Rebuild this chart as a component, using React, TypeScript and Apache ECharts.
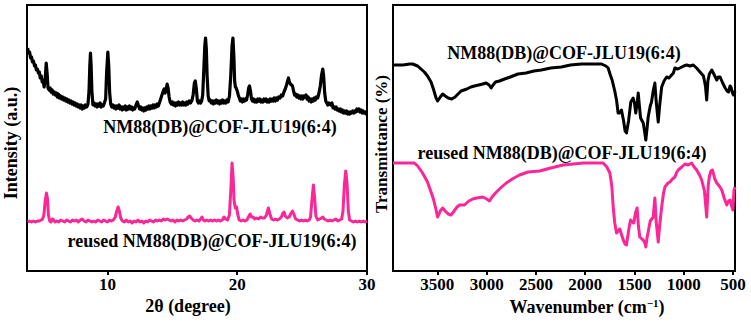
import React, { useEffect, useRef } from "react";
import * as echarts from "echarts";

// XRD patterns: [2θ (degree), intensity (a.u., stacked with offset)]
const xrdFresh: [number, number][] = [
  [3.85, 223], [3.92, 218], [4.0, 219], [4.08, 213], [4.15, 214], [4.22, 209], [4.3, 210], [4.38, 205],
  [4.45, 206], [4.52, 201], [4.6, 202], [4.68, 198], [4.75, 199], [4.82, 193], [4.9, 195], [4.97, 189],
  [5.05, 190], [5.12, 184], [5.2, 192], [5.28, 208], [5.36, 196], [5.42, 183], [5.5, 181], [5.58, 183],
  [5.66, 179], [5.74, 181], [5.82, 177], [5.9, 179], [5.98, 176], [6.06, 178], [6.14, 174], [6.22, 177],
  [6.3, 173], [6.38, 175], [6.46, 172], [6.54, 174], [6.62, 171], [6.7, 173], [6.78, 170], [6.86, 172],
  [6.94, 169], [7.02, 171], [7.1, 168], [7.18, 170], [7.26, 167], [7.34, 169], [7.42, 166], [7.5, 168],
  [7.58, 165], [7.66, 167], [7.74, 164], [7.82, 166], [7.9, 163], [7.98, 166], [8.06, 162], [8.14, 165],
  [8.22, 163], [8.3, 166], [8.4, 164], [8.5, 167], [8.58, 180], [8.64, 205], [8.69, 218], [8.74, 206],
  [8.8, 180], [8.88, 166], [8.96, 168], [9.04, 165], [9.12, 167], [9.2, 164], [9.28, 167], [9.36, 165],
  [9.44, 168], [9.52, 164], [9.6, 166], [9.68, 165], [9.76, 168], [9.86, 172], [9.94, 200], [10.03, 219],
  [10.1, 205], [10.17, 178], [10.25, 167], [10.33, 164], [10.41, 166], [10.49, 163], [10.57, 165], [10.65, 162],
  [10.73, 165], [10.81, 163], [10.9, 166], [10.98, 162], [11.06, 164], [11.14, 161], [11.22, 164], [11.3, 162],
  [11.38, 165], [11.46, 161], [11.54, 164], [11.62, 162], [11.7, 165], [11.78, 162], [11.86, 164], [11.94, 161],
  [12.02, 163], [12.1, 162], [12.2, 166], [12.3, 169], [12.4, 165], [12.48, 162], [12.56, 164], [12.64, 161],
  [12.72, 163], [12.8, 160], [12.88, 163], [12.96, 161], [13.04, 164], [13.12, 162], [13.2, 165], [13.28, 162],
  [13.36, 165], [13.44, 163], [13.52, 166], [13.6, 163], [13.68, 166], [13.76, 164], [13.84, 167], [13.92, 165],
  [14.0, 168], [14.1, 172], [14.2, 176], [14.3, 180], [14.37, 182], [14.45, 178], [14.52, 182], [14.6, 187],
  [14.67, 183], [14.75, 174], [14.83, 169], [14.92, 167], [15.0, 169], [15.08, 166], [15.16, 168], [15.24, 165],
  [15.32, 168], [15.4, 166], [15.48, 169], [15.56, 166], [15.64, 168], [15.72, 166], [15.8, 169], [15.88, 166],
  [15.96, 168], [16.04, 166], [16.12, 169], [16.2, 167], [16.3, 170], [16.4, 168], [16.5, 170], [16.6, 176],
  [16.7, 188], [16.77, 190], [16.85, 182], [16.93, 170], [17.01, 168], [17.1, 170], [17.18, 168], [17.26, 170],
  [17.34, 176], [17.42, 200], [17.5, 225], [17.56, 233], [17.62, 222], [17.68, 195], [17.76, 175], [17.84, 170],
  [17.92, 171], [18.0, 168], [18.08, 170], [18.16, 167], [18.24, 170], [18.32, 168], [18.4, 171], [18.48, 168],
  [18.56, 170], [18.64, 167], [18.72, 170], [18.8, 168], [18.88, 171], [18.96, 168], [19.04, 170], [19.12, 168],
  [19.2, 171], [19.3, 169], [19.4, 175], [19.5, 195], [19.6, 225], [19.67, 233], [19.74, 215], [19.8, 190],
  [19.86, 184], [19.92, 183], [20.0, 180], [20.08, 176], [20.16, 173], [20.24, 170], [20.32, 172], [20.4, 169],
  [20.48, 172], [20.56, 170], [20.64, 172], [20.72, 171], [20.8, 176], [20.88, 183], [20.95, 185], [21.02, 180],
  [21.1, 172], [21.18, 170], [21.26, 172], [21.34, 169], [21.42, 171], [21.5, 169], [21.58, 172], [21.66, 170],
  [21.74, 172], [21.82, 169], [21.9, 171], [21.98, 169], [22.06, 172], [22.14, 170], [22.22, 172], [22.3, 169],
  [22.38, 171], [22.46, 169], [22.54, 172], [22.62, 170], [22.7, 172], [22.78, 170], [22.86, 173], [22.94, 170],
  [23.02, 173], [23.1, 171], [23.2, 174], [23.3, 173], [23.4, 176], [23.5, 175], [23.6, 179], [23.7, 182],
  [23.8, 186], [23.88, 190], [23.95, 193], [24.02, 189], [24.1, 187], [24.18, 186], [24.26, 185], [24.34, 180],
  [24.42, 176], [24.5, 177], [24.58, 174], [24.66, 176], [24.74, 173], [24.82, 175], [24.9, 172], [24.98, 175],
  [25.06, 172], [25.14, 175], [25.22, 174], [25.3, 176], [25.38, 172], [25.46, 174], [25.54, 170], [25.62, 172],
  [25.7, 169], [25.78, 172], [25.86, 170], [25.94, 173], [26.02, 171], [26.1, 174], [26.2, 173], [26.3, 178],
  [26.4, 185], [26.5, 196], [26.59, 202], [26.66, 195], [26.74, 178], [26.82, 170], [26.9, 168], [26.98, 166],
  [27.06, 168], [27.14, 167], [27.22, 166], [27.3, 168], [27.38, 163], [27.46, 164], [27.54, 162], [27.62, 164],
  [27.7, 161], [27.78, 162], [27.86, 160], [27.94, 162], [28.02, 159], [28.1, 161], [28.18, 158], [28.26, 160],
  [28.34, 158], [28.42, 160], [28.5, 157], [28.58, 159], [28.66, 157], [28.74, 159], [28.82, 158], [28.9, 160],
  [28.98, 158], [29.06, 160], [29.14, 159], [29.22, 162], [29.3, 160], [29.38, 162], [29.46, 159], [29.54, 161],
  [29.62, 158], [29.7, 160], [29.78, 158], [29.86, 159], [29.94, 157], [30.0, 158],
];

const xrdReused: [number, number][] = [
  [3.85, 49], [4.0, 50], [4.15, 49], [4.3, 50], [4.45, 49], [4.6, 50], [4.75, 50], [4.9, 51],
  [5.0, 52], [5.1, 56], [5.2, 70], [5.3, 78], [5.38, 72], [5.45, 56], [5.55, 50], [5.65, 49],
  [5.75, 52], [5.85, 51], [5.95, 49], [6.1, 50], [6.25, 49], [6.4, 51], [6.55, 50], [6.7, 49],
  [6.85, 51], [7.0, 50], [7.15, 49], [7.3, 51], [7.45, 50], [7.6, 51], [7.75, 49], [7.9, 51],
  [8.05, 52], [8.2, 50], [8.35, 49], [8.5, 51], [8.65, 50], [8.8, 49], [8.95, 50], [9.1, 49],
  [9.25, 51], [9.4, 50], [9.55, 49], [9.7, 51], [9.85, 50], [10.0, 49], [10.15, 51], [10.3, 50],
  [10.45, 51], [10.6, 54], [10.72, 60], [10.82, 64], [10.92, 60], [11.02, 53], [11.15, 50], [11.3, 49],
  [11.45, 51], [11.6, 49], [11.75, 50], [11.9, 48], [12.05, 50], [12.2, 49], [12.35, 51], [12.5, 49],
  [12.65, 50], [12.8, 48], [12.95, 50], [13.1, 49], [13.25, 51], [13.4, 50], [13.55, 49], [13.7, 51],
  [13.85, 50], [14.0, 51], [14.15, 50], [14.3, 52], [14.45, 51], [14.6, 52], [14.75, 51], [14.9, 50],
  [15.05, 51], [15.2, 49], [15.35, 51], [15.5, 50], [15.65, 51], [15.8, 50], [15.95, 51], [16.1, 52],
  [16.22, 54], [16.33, 55], [16.45, 53], [16.6, 51], [16.75, 50], [16.9, 51], [17.05, 50], [17.18, 52],
  [17.28, 54], [17.38, 51], [17.5, 50], [17.65, 51], [17.8, 50], [17.95, 51], [18.1, 50], [18.25, 51],
  [18.4, 50], [18.55, 51], [18.7, 50], [18.85, 51], [18.98, 54], [19.1, 52], [19.25, 51], [19.4, 56],
  [19.5, 80], [19.6, 108], [19.68, 95], [19.76, 70], [19.85, 63], [19.95, 64], [20.05, 56], [20.15, 51],
  [20.3, 50], [20.45, 51], [20.6, 50], [20.75, 51], [20.9, 55], [21.0, 57], [21.1, 54], [21.22, 54],
  [21.35, 52], [21.5, 53], [21.65, 52], [21.8, 54], [21.95, 53], [22.1, 53], [22.25, 56], [22.4, 63],
  [22.52, 57], [22.65, 52], [22.8, 51], [22.95, 52], [23.1, 51], [23.25, 52], [23.4, 54], [23.52, 58],
  [23.6, 59], [23.7, 55], [23.85, 53], [24.0, 54], [24.15, 58], [24.26, 60], [24.36, 57], [24.5, 52],
  [24.65, 51], [24.8, 50], [24.95, 51], [25.1, 50], [25.25, 51], [25.4, 50], [25.55, 51], [25.65, 54],
  [25.75, 70], [25.87, 86], [25.97, 72], [26.06, 55], [26.2, 51], [26.35, 52], [26.5, 53], [26.6, 54],
  [26.7, 52], [26.85, 51], [27.0, 50], [27.15, 51], [27.3, 50], [27.45, 51], [27.6, 52], [27.75, 50],
  [27.9, 51], [28.05, 52], [28.15, 60], [28.25, 85], [28.36, 100], [28.46, 88], [28.56, 60], [28.66, 51],
  [28.8, 50], [28.95, 49], [29.1, 50], [29.25, 49], [29.4, 50], [29.55, 49], [29.7, 50], [29.85, 49],
  [30.0, 50],
];

// FTIR spectra: [wavenumber (cm-1), transmittance (%, stacked with offset)]
const ftirFresh: [number, number][] = [
  [3950, 206], [3850, 206], [3780, 207], [3751, 207], [3700, 205], [3632, 199], [3600, 195], [3564, 189],
  [3540, 182], [3513, 173], [3497, 170], [3470, 174], [3446, 177], [3420, 175], [3390, 173], [3354, 172],
  [3320, 174], [3290, 177], [3259, 180], [3200, 182], [3160, 184], [3124, 185], [3080, 186], [3040, 187],
  [3005, 188], [2975, 186], [2954, 183], [2935, 186], [2910, 189], [2870, 190], [2818, 192], [2760, 194],
  [2683, 197], [2600, 198], [2520, 200], [2445, 201], [2350, 203], [2242, 204], [2150, 206], [2038, 207],
  [1940, 207], [1835, 207], [1790, 205], [1767, 203], [1745, 196], [1727, 191], [1700, 180], [1682, 171],
  [1666, 158], [1650, 158], [1632, 161], [1610, 150], [1595, 140], [1581, 138], [1560, 150], [1537, 169],
  [1513, 173], [1500, 168], [1487, 158], [1470, 170], [1462, 178], [1450, 165], [1438, 153], [1411, 148],
  [1395, 138], [1385, 131], [1373, 142], [1361, 154], [1340, 165], [1327, 169], [1310, 180], [1293, 188],
  [1280, 170], [1259, 149], [1245, 165], [1224, 184], [1200, 190], [1174, 194], [1150, 193], [1123, 196],
  [1105, 198], [1090, 203], [1060, 202], [1039, 203], [1000, 205], [970, 206], [935, 205], [903, 206],
  [870, 203], [835, 199], [800, 195], [780, 185], [767, 171], [755, 190], [740, 197], [716, 201],
  [690, 196], [665, 191], [650, 194], [631, 194], [605, 188], [580, 183], [560, 180], [546, 179],
  [530, 185], [522, 184], [505, 178], [495, 176], [480, 180],
];

const ftirReused: [number, number][] = [
  [3950, 108], [3850, 108], [3734, 108], [3700, 105], [3650, 98], [3600, 89], [3564, 79], [3540, 72],
  [3520, 64], [3497, 54], [3470, 60], [3446, 63], [3420, 60], [3390, 57], [3361, 56], [3330, 60],
  [3300, 64], [3276, 66], [3225, 66], [3180, 70], [3141, 72], [3100, 73], [3039, 74], [3000, 72],
  [2971, 70], [2945, 74], [2910, 78], [2870, 82], [2801, 88], [2740, 92], [2666, 96], [2580, 99],
  [2462, 100], [2350, 103], [2225, 106], [2120, 107], [2022, 108], [1900, 108], [1818, 108], [1780, 104],
  [1750, 98], [1730, 85], [1716, 64], [1700, 48], [1682, 38], [1665, 40], [1649, 42], [1630, 36],
  [1614, 31], [1595, 27], [1581, 26], [1560, 40], [1540, 51], [1520, 49], [1507, 48], [1490, 58],
  [1473, 63], [1460, 45], [1446, 34], [1425, 32], [1411, 31], [1395, 28], [1385, 24], [1373, 33],
  [1361, 39], [1340, 50], [1310, 54], [1293, 73], [1280, 50], [1259, 29], [1245, 45], [1224, 64],
  [1205, 78], [1191, 84], [1160, 88], [1140, 89], [1115, 92], [1090, 94], [1070, 99], [1056, 101],
  [1020, 104], [988, 107], [955, 106], [920, 108], [895, 104], [869, 101], [840, 96], [818, 91],
  [790, 80], [767, 54], [752, 85], [741, 94], [725, 100], [708, 101], [685, 92], [665, 88],
  [640, 85], [614, 81], [590, 73], [563, 66], [545, 70], [529, 71], [515, 65], [502, 61],
  [490, 81], [480, 84],
];

const xrdTicks = [10, 20, 30];
const ftirTicks = [3500, 3000, 2500, 2000, 1500, 1000, 500];
const sampleName = "NM88(DB)@COF-JLU19(6:4)";
const reusedName = "reused NM88(DB)@COF-JLU19(6:4)";

const FONT = '"Liberation Serif", "Times New Roman", serif';
const BLACK = "#000000";
const PINK = "#fb2796";

function textEl(text: string, x: number, y: number, size: number, rotation = 0) {
  return {
    type: "text",
    x,
    y,
    rotation,
    style: {
      text,
      fontFamily: FONT,
      fontWeight: "bold",
      fontSize: size,
      fill: BLACK,
      align: "center",
      verticalAlign: "middle",
    },
  };
}

function xAxisCfg(gridIndex: number, min: number, max: number, ticks: number[], inverse: boolean) {
  return {
    gridIndex,
    type: "value",
    min,
    max,
    inverse,
    axisLine: { show: true, onZero: false, lineStyle: { color: BLACK, width: 2 } },
    axisTick: { show: true, customValues: ticks, length: 4, lineStyle: { color: BLACK, width: 2 } },
    axisLabel: {
      customValues: ticks,
      formatter: (v: number) => String(v),
      fontFamily: FONT,
      fontWeight: "bold",
      fontSize: 17,
      color: BLACK,
      margin: 5,
    },
    splitLine: { show: false },
  };
}

function lineSeries(data: [number, number][], idx: number, color: string, width: number) {
  return {
    type: "line",
    xAxisIndex: idx,
    yAxisIndex: idx,
    data,
    symbol: "none",
    showSymbol: false,
    lineStyle: { color, width, join: "round" },
    z: 3,
  };
}

export default function App() {
  const ref = useRef<HTMLDivElement>(null);

  useEffect(() => {
    if (!ref.current) return;
    const chart = echarts.init(ref.current, null, { renderer: "svg" });
    chart.setOption({
      animation: false,
      backgroundColor: "#ffffff",
      grid: [
        { left: 27, top: 5, width: 340, height: 266, show: true, borderColor: BLACK, borderWidth: 2 },
        { left: 393, top: 5, width: 342, height: 266, show: true, borderColor: BLACK, borderWidth: 2 },
      ],
      xAxis: [xAxisCfg(0, 3.8, 30, xrdTicks, false), xAxisCfg(1, 480, 3950, ftirTicks, true)],
      yAxis: [
        { gridIndex: 0, type: "value", min: 0, max: 266, show: false },
        { gridIndex: 1, type: "value", min: 0, max: 266, show: false },
      ],
      series: [
        lineSeries(xrdFresh, 0, BLACK, 3.2),
        lineSeries(xrdReused, 0, PINK, 3),
        lineSeries(ftirFresh, 1, BLACK, 3),
        lineSeries(ftirReused, 1, PINK, 3),
      ],
      graphic: [
        textEl(sampleName, 220, 127, 18),
        textEl(reusedName, 212, 241, 18),
        textEl(sampleName, 564, 53, 18),
        textEl(reusedName, 562, 153, 18),
        textEl("Intensity (a.u.)", 11, 143, 18, Math.PI / 2),
        textEl("Transmittance (%)", 381, 144, 17, Math.PI / 2),
        textEl("2θ (degree)", 188, 306, 18),
        {
          type: "text",
          x: 587,
          y: 307,
          style: {
            text: "Wavenumber (cm{sup|−1})",
            fontFamily: FONT,
            fontWeight: "bold",
            fontSize: 18,
            fill: BLACK,
            align: "center",
            verticalAlign: "middle",
            rich: {
              sup: {
                fontFamily: FONT,
                fontWeight: "bold",
                fontSize: 11,
                fill: BLACK,
                padding: [0, 0, 9, 0],
              },
            },
          },
        },
      ],
    });
    return () => chart.dispose();
  }, []);

  return (
    <div
      ref={ref}
      style={{ position: "fixed", left: 0, top: 0, width: 751, height: 322, background: "#fff" }}
    />
  );
}
